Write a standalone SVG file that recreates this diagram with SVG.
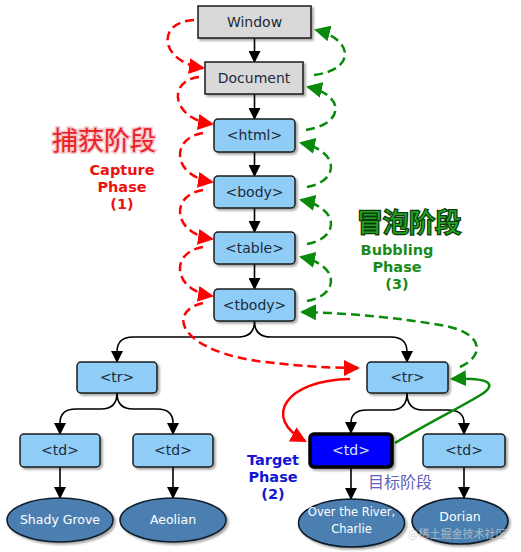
<svg xmlns="http://www.w3.org/2000/svg" width="521" height="552" viewBox="0 0 521 552">
<defs>
<filter id="sh" x="-10%" y="-10%" width="130%" height="140%">
<feDropShadow dx="2" dy="2" stdDeviation="1" flood-color="#000" flood-opacity="0.35"/>
</filter>
<marker id="ab" markerUnits="userSpaceOnUse" markerWidth="12" markerHeight="12" refX="11" refY="6" orient="auto">
<path d="M0,0 L12,6 L0,12 z" fill="#000"/>
</marker>
<marker id="ar" markerUnits="userSpaceOnUse" markerWidth="16" markerHeight="16" refX="14" refY="8" orient="auto">
<path d="M0,0 L16,8 L0,16 z" fill="#ff0000"/>
</marker>
<marker id="ag" markerUnits="userSpaceOnUse" markerWidth="16" markerHeight="16" refX="14" refY="8" orient="auto">
<path d="M0,0 L16,8 L0,16 z" fill="#0a8a0a"/>
</marker>
</defs>
<style>
.gray{fill:#d9d9d9;stroke:#1a1a1a;stroke-width:1.5}
.box{fill:#8fcdf6;stroke:#1a1a1a;stroke-width:1.5}
.tgt{fill:#0000ff;stroke:#000;stroke-width:3.5}
.leaf{fill:#4b7fb1;stroke:#0d1a26;stroke-width:1.5}
.t{font-family:"DejaVu Sans",Verdana,sans-serif;font-size:14px;fill:#1b2a3c;text-anchor:middle}
.lt{font-family:"DejaVu Sans",Verdana,sans-serif;font-size:12.5px;fill:#ffffff;text-anchor:middle}
.bl{fill:none;stroke:#000;stroke-width:1.6;marker-end:url(#ab)}
.rd{fill:none;stroke:#ff0000;stroke-width:2.5;stroke-dasharray:9 5;marker-end:url(#ar)}
.gd{fill:none;stroke:#0a8a0a;stroke-width:2.5;stroke-dasharray:9 5;marker-end:url(#ag)}
.lab{font-family:"DejaVu Sans",Verdana,sans-serif;font-size:14.5px;font-weight:bold;text-anchor:middle}
.cjk{font-family:"Noto Sans CJK SC",sans-serif}
</style>
<rect width="521" height="552" fill="#ffffff"/>

<g id="connectors">
<path class="bl" d="M254.5,38 L254.5,62"/>
<path class="bl" d="M254.5,94 L254.5,119"/>
<path class="bl" d="M254.5,152 L254.5,176"/>
<path class="bl" d="M254.5,208 L254.5,232"/>
<path class="bl" d="M254.5,264 L254.5,289"/>
<path class="bl" d="M254.5,321 Q254.5,337 238,337 L133,337 Q117,337 117,352 L117,362"/>
<path class="bl" d="M254.5,321 Q254.5,337 271,337 L391,337 Q407,337 407,352 L407,362"/>
<path class="bl" d="M117,393 Q117,409 101,409 L76,409 Q60,409 60,423 L60,434"/>
<path class="bl" d="M117,393 Q117,409 133,409 L157,409 Q173,409 173,423 L173,434"/>
<path class="bl" d="M407,393 Q407,410 391,410 L367,410 Q351,410 351,423 L351,433"/>
<path class="bl" d="M407,393 Q407,410 423,410 L448,410 Q464,410 464,423 L464,434"/>
<path class="bl" d="M60,467 L60,498"/>
<path class="bl" d="M173,467 L173,498"/>
<path class="bl" d="M351,468 L351,499"/>
<path class="bl" d="M464,467 L464,498"/>

<path class="rd" d="M194,20 C155,22 160,62 203,68"/>
<path class="rd" d="M199,77 C168,80 170,118 212,124"/>
<path class="rd" d="M203,133 C170,138 172,176 212,182"/>
<path class="rd" d="M203,190 C170,195 172,233 212,239"/>
<path class="rd" d="M203,247 C170,252 172,290 212,296"/>
<path class="rd" d="M203,303 C165,312 180,352 265,362 C310,367 335,368 358,368"/>
<path d="M350,379 C285,380 262,418 305,441" fill="none" stroke="#ff0000" stroke-width="2.5" marker-end="url(#ar)"/>

<path class="gd" d="M314,75 C355,70 355,40 316,30"/>
<path class="gd" d="M306,130 C345,124 345,95 308,87"/>
<path class="gd" d="M307,187 C340,181 340,151 301,143"/>
<path class="gd" d="M307,244 C340,238 340,208 301,200"/>
<path class="gd" d="M307,301 C340,295 340,265 301,257"/>
<path class="gd" d="M460,367 C485,356 485,332 440,325 C400,318 350,313 302,312"/>
<path d="M395,443 C430,422 465,405 482,394 C497,384 490,377 452,379" fill="none" stroke="#0a8a0a" stroke-width="2.5" marker-end="url(#ag)"/>
</g>

<g id="window"><rect class="gray" x="198" y="6" width="113" height="32" filter="url(#sh)"/><text class="t" x="254.5" y="27">Window</text></g>
<g id="document"><rect class="gray" x="205" y="62" width="98" height="32" filter="url(#sh)"/><text class="t" x="254" y="83">Document</text></g>
<g id="html"><rect class="box" x="214" y="119" width="81" height="33" rx="4" filter="url(#sh)"/><text class="t" x="254.5" y="140">&lt;html&gt;</text></g>
<g id="body"><rect class="box" x="214" y="176" width="81" height="32" rx="4" filter="url(#sh)"/><text class="t" x="254.5" y="197">&lt;body&gt;</text></g>
<g id="table"><rect class="box" x="214" y="232" width="81" height="32" rx="4" filter="url(#sh)"/><text class="t" x="254.5" y="253">&lt;table&gt;</text></g>
<g id="tbody"><rect class="box" x="214" y="289" width="81" height="32" rx="4" filter="url(#sh)"/><text class="t" x="254.5" y="310">&lt;tbody&gt;</text></g>
<g id="tr1"><rect class="box" x="77" y="362" width="80" height="31" rx="4" filter="url(#sh)"/><text class="t" x="117" y="382">&lt;tr&gt;</text></g>
<g id="tr2"><rect class="box" x="367" y="362" width="81" height="31" rx="4" filter="url(#sh)"/><text class="t" x="407.5" y="382">&lt;tr&gt;</text></g>
<g id="td1"><rect class="box" x="20" y="434" width="80" height="33" rx="4" filter="url(#sh)"/><text class="t" x="60" y="455">&lt;td&gt;</text></g>
<g id="td2"><rect class="box" x="133" y="434" width="80" height="33" rx="4" filter="url(#sh)"/><text class="t" x="173" y="455">&lt;td&gt;</text></g>
<g id="td3"><rect class="tgt" x="310" y="434" width="82" height="33" rx="4" filter="url(#sh)"/><text class="t" x="351" y="455" style="fill:#dde4ff">&lt;td&gt;</text></g>
<g id="td4"><rect class="box" x="423" y="434" width="82" height="33" rx="4" filter="url(#sh)"/><text class="t" x="464" y="455">&lt;td&gt;</text></g>

<g id="leaf1"><ellipse class="leaf" cx="60" cy="520" rx="53" ry="22" filter="url(#sh)"/><text class="lt" x="60" y="524">Shady Grove</text></g>
<g id="leaf2"><ellipse class="leaf" cx="173" cy="520" rx="53" ry="22" filter="url(#sh)"/><text class="lt" x="173" y="524">Aeolian</text></g>
<g id="leaf3"><ellipse class="leaf" cx="351.5" cy="523" rx="53" ry="24" filter="url(#sh)"/><text class="lt" x="351.5" y="516" style="font-size:11.5px">Over the River,</text><text class="lt" x="351.5" y="533" style="font-size:11.5px">Charlie</text></g>
<g id="leaf4"><ellipse class="leaf" cx="460" cy="521" rx="48" ry="23" filter="url(#sh)"/><text class="lt" x="460" y="521">Dorian</text></g>

<g id="capture-label">
<text class="cjk" x="52" y="150" font-size="26" fill="#e8202a" stroke="#f6c4c4" stroke-width="3" paint-order="stroke">捕获阶段</text>
<text class="lab" fill="#ee1111"><tspan x="122" y="175">Capture</tspan><tspan x="122" y="192">Phase</tspan><tspan x="122" y="209">(1)</tspan></text>
</g>
<g id="bubble-label">
<text class="cjk" x="357" y="232" font-size="26" fill="#22a022" stroke="#0a3a0a" stroke-width="2.5" paint-order="stroke">冒泡阶段</text>
<text class="lab" fill="#1a8c1a"><tspan x="397" y="255">Bubbling</tspan><tspan x="397" y="272">Phase</tspan><tspan x="397" y="289">(3)</tspan></text>
</g>
<g id="target-label">
<text class="lab" fill="#1414d4"><tspan x="273" y="465">Target</tspan><tspan x="273" y="482">Phase</tspan><tspan x="273" y="499">(2)</tspan></text>
<text class="cjk" x="368" y="488" font-size="16" fill="#6060c0">目标阶段</text>
</g>
<text class="cjk" x="408" y="538" font-size="11" fill="#c8c8c8" fill-opacity="0.8">@稀土掘金技术社区</text>
</svg>
